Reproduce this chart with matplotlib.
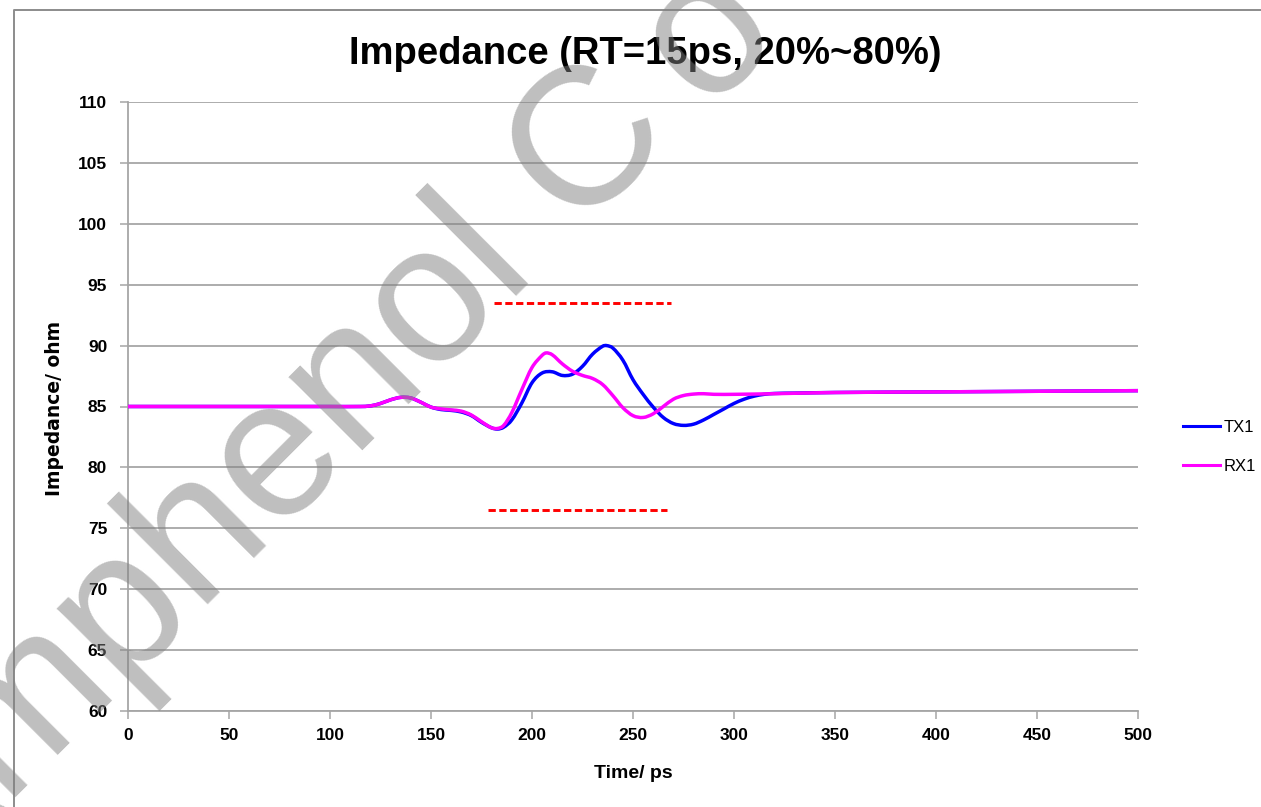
import matplotlib
matplotlib.use("Agg")
import matplotlib.pyplot as plt
from matplotlib.lines import Line2D
from matplotlib.path import Path
from matplotlib.patches import PathPatch
from matplotlib.font_manager import FontProperties
from matplotlib.textpath import text_to_path
import numpy as np

# ---- data -------------------------------------------------------------
time_tx = [0, 50, 100, 115, 120, 125, 130, 135, 140, 145, 150, 155, 160, 165,
           170, 175, 180, 183, 186, 190, 195, 200, 205, 210, 215, 220, 225,
           230, 235, 237, 240, 245, 250, 255, 260, 265, 270, 275, 280, 285,
           290, 295, 300, 305, 310, 315, 320, 330, 350, 400, 450, 500]
tx1 = [85.0, 85.0, 85.0, 85.0, 85.05, 85.25, 85.55, 85.75, 85.7, 85.35, 84.95,
       84.75, 84.68, 84.55, 84.25, 83.7, 83.25, 83.15, 83.3, 83.9, 85.3, 86.95,
       87.75, 87.85, 87.55, 87.65, 88.3, 89.3, 89.95, 90.0, 89.8, 88.8, 87.2,
       86.0, 84.95, 84.1, 83.6, 83.45, 83.55, 83.9, 84.35, 84.8, 85.25, 85.6,
       85.85, 86.0, 86.07, 86.1, 86.15, 86.2, 86.25, 86.3]

time_rx = [0, 50, 100, 115, 120, 125, 130, 135, 140, 145, 150, 155, 160, 165,
           170, 175, 180, 183, 186, 190, 195, 200, 205, 207, 210, 215, 220,
           225, 230, 235, 240, 245, 250, 255, 260, 265, 270, 275, 280, 285,
           290, 300, 320, 350, 400, 450, 500]
rx1 = [85.0, 85.0, 85.0, 85.0, 85.05, 85.25, 85.55, 85.75, 85.7, 85.35, 84.95,
       84.8, 84.72, 84.62, 84.3, 83.75, 83.25, 83.2, 83.45, 84.5, 86.4, 88.2,
       89.2, 89.4, 89.25, 88.5, 87.9, 87.55, 87.3, 86.8, 85.9, 84.9, 84.25,
       84.1, 84.4, 85.0, 85.6, 85.9, 86.02, 86.05, 86.0, 86.0, 86.05, 86.15,
       86.2, 86.25, 86.3]

# impedance tolerance limits (85 ohm +/- 10 %)
upper_limit = 93.5
lower_limit = 76.5
upper_span = [181, 269]
lower_span = [178, 267]

x_ticks = [0, 50, 100, 150, 200, 250, 300, 350, 400, 450, 500]
y_ticks = [60, 65, 70, 75, 80, 85, 90, 95, 100, 105, 110]


def smooth_path(x, y):
    """Smoothed line through the points (cubic Hermite as Bezier segments)."""
    x = np.asarray(x, float)
    y = np.asarray(y, float)
    n = len(x)
    m = np.empty(n)
    m[0] = (y[1] - y[0]) / (x[1] - x[0])
    m[-1] = (y[-1] - y[-2]) / (x[-1] - x[-2])
    m[1:-1] = (y[2:] - y[:-2]) / (x[2:] - x[:-2])
    verts = [(x[0], y[0])]
    codes = [Path.MOVETO]
    for i in range(n - 1):
        h = x[i + 1] - x[i]
        verts += [(x[i] + h / 3, y[i] + m[i] * h / 3),
                  (x[i + 1] - h / 3, y[i + 1] - m[i + 1] * h / 3),
                  (x[i + 1], y[i + 1])]
        codes += [Path.CURVE4] * 3
    return Path(verts, codes)


# ---- figure -----------------------------------------------------------
W, H = 1261, 807
fig = plt.figure(figsize=(W / 100, H / 100), dpi=100)
ax = fig.add_axes([128 / W, 1 - 711 / H, (1138 - 128) / W, (711 - 102) / H])

sans = ["Liberation Sans", "DejaVu Sans"]
grid_c = "#a6a6a6"
blue, magenta = "#0000ff", "#ff00ff"

for xs, ys, c, z in ((time_tx, tx1, blue, 3), (time_rx, rx1, magenta, 4)):
    ax.add_patch(PathPatch(smooth_path(xs, ys), fill=False, edgecolor=c,
                           lw=2.5, zorder=z, capstyle="round",
                           joinstyle="round"))
for lvl, span in ((upper_limit, upper_span), (lower_limit, lower_span)):
    ax.plot(span, [lvl, lvl], color="#ff0000", lw=2.1, dashes=(2.5, 1.2),
            zorder=2)

ax.set_xlim(0, 500)
ax.set_ylim(60, 110)
ax.set_xticks(x_ticks)
ax.set_yticks(y_ticks)
ax.yaxis.grid(True, color=grid_c, lw=1.3)
ax.set_axisbelow(True)
for s in ("top", "right"):
    ax.spines[s].set_visible(False)
for s in ("left", "bottom"):
    ax.spines[s].set_color(grid_c)
    ax.spines[s].set_linewidth(1.3)
ax.tick_params(axis="both", length=6, width=1.1, color=grid_c)
ax.tick_params(axis="y", pad=9)
ax.tick_params(axis="x", pad=6)
for lab in ax.get_xticklabels() + ax.get_yticklabels():
    lab.set_family(sans)
    lab.set_fontweight("bold")
    lab.set_fontsize(12.5)

fig.text(645 / W, 1 - 54 / H, "Impedance (RT=15ps, 20%~80%)", ha="center",
         va="center", family=sans, fontweight="bold", fontsize=27.5)
fig.text(633 / W, 1 - 774 / H, "Time/ ps", ha="center", va="center",
         family=sans, fontweight="bold", fontsize=14)
fig.text(55 / W, 1 - 408 / H, "Impedance/ ohm", ha="center", va="center",
         rotation=90, family=["DejaVu Sans"], fontweight="bold", fontsize=13.5)

handles = [Line2D([], [], color=blue, lw=2.2), Line2D([], [], color=magenta, lw=2.2)]
ax.legend(handles, ["TX1", "RX1"], loc="center left",
          bbox_to_anchor=((1183 - 128) / 1010, (711 - 447) / 609),
          frameon=False, borderpad=0, borderaxespad=0, handlelength=2.2,
          handletextpad=0.25, labelspacing=1.45,
          prop={"family": sans, "size": 12})

# outer chart frame
fig.add_artist(Line2D([13.5 / W, 13.5 / W, 1.0], [0, 1 - 10 / H, 1 - 10 / H],
                      transform=fig.transFigure, color="#8c8c8c", lw=1.4))

# diagonal watermark, placed so the stem of the "l" sits where intended
em_px = 196
fp = FontProperties(family="Liberation Sans", size=em_px)
ang = np.deg2rad(45)
ca, sa = np.cos(ang), np.sin(ang)
pre_w, _, _ = text_to_path.get_text_width_height_descent("Ampheno", fp, False)
stem_off = pre_w + 0.111 * em_px
lx, ly = 522.7, H - 290.7
ox, oy = lx - stem_off * ca, ly - stem_off * sa
wm = dict(rotation=45, rotation_mode="anchor", ha="left", va="baseline",
          family="Liberation Sans", fontsize=em_px * 72 / 100,
          color="#808080", alpha=0.5, zorder=10)
fig.text(ox / W, oy / H, "Amphenol C", **wm)
# the last letter is set a little looser
o_w, _, _ = text_to_path.get_text_width_height_descent("Amphenol C", fp, False)
o_off = o_w + 40
fig.text((ox + o_off * ca) / W, (oy + o_off * sa) / H, "o", **wm)

fig.savefig("out.png", dpi=100)
